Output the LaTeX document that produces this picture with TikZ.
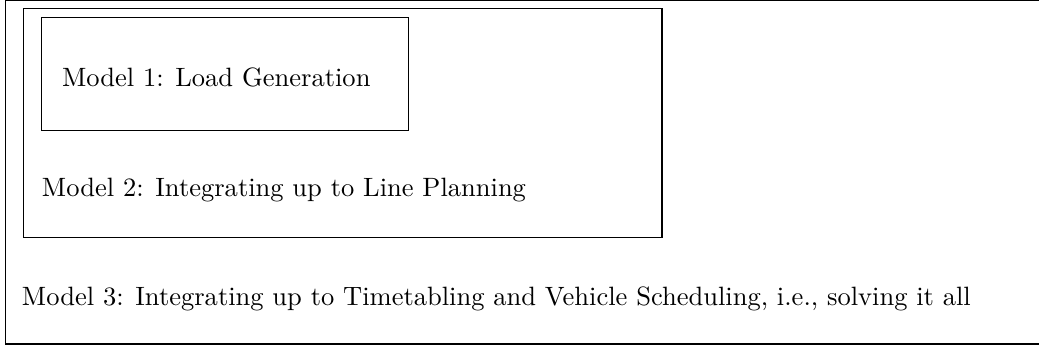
\documentclass[tikz,border=0pt]{standalone}
\begin{document}
\begin{tikzpicture}[x=0.3802pt,y=-0.3802pt,
  box/.style={draw, line width=0.4pt},
  lbl/.style={anchor=base west, inner sep=0pt, outer sep=0pt, font=\fontsize{10.08pt}{12pt}\selectfont}]
\useasboundingbox (0,0) rectangle (1039,349);
\draw[box] (5.5,0.2) rectangle (1046,344) coordinate (outerC);
\draw[box] (23.5,8.5) rectangle (662,237.5);
\draw[box] (41.5,17.5) rectangle (408.5,130.5);
\node[lbl] (m1) at (62,86) {Model 1: Load Generation};
\node[lbl] (m2) at (42,196) {Model 2: Integrating up to Line Planning};
\node[lbl] (m3) at (22,305) {Model 3: Integrating up to Timetabling and Vehicle Scheduling, i.e., solving it all};
\end{tikzpicture}
\end{document}
